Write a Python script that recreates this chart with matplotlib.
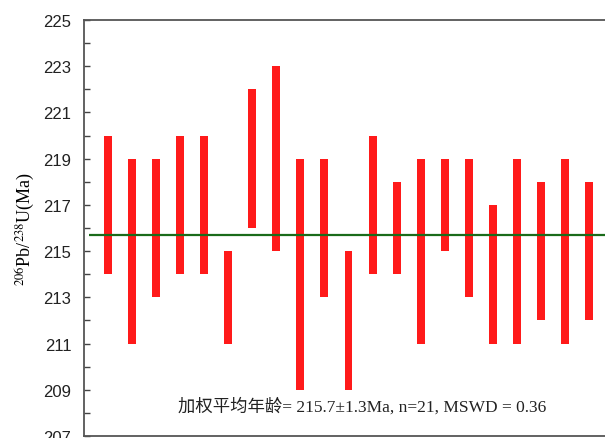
import numpy as np
import matplotlib
matplotlib.use("Agg")
import matplotlib.pyplot as plt
from matplotlib.ticker import MultipleLocator

# 206Pb/238U ages with error ranges (Ma), one bar per analysis
age_low = [214, 211, 213, 214, 214, 211, 216, 215, 209, 213, 209,
           214, 214, 211, 215, 213, 211, 211, 212, 211, 212]
age_high = [220, 219, 219, 220, 220, 215, 222, 223, 219, 219, 215,
            220, 218, 219, 219, 219, 217, 219, 218, 219, 218]
weighted_mean = 215.7
y_ticks = [207, 209, 211, 213, 215, 217, 219, 221, 223, 225]
note = "加权平均年龄= 215.7±1.3Ma, n=21, MSWD = 0.36"

plt.rcParams["mathtext.fontset"] = "stix"

fig = plt.figure(figsize=(6.05, 4.39), dpi=100)
ax = fig.add_axes([84 / 605, 2 / 439, 529 / 605, 416 / 439])

x = np.arange(1, len(age_low) + 1)
low = np.array(age_low)
high = np.array(age_high)
ax.bar(x, high - low, bottom=low, width=0.33, color="#ff1a1a", zorder=2)
ax.hlines(weighted_mean, 0.2, 22, color="#1a6b1a", linewidth=1.6, zorder=3)

ax.set_xlim(0, 22)
ax.set_ylim(207, 225)
ax.set_xticks([])
ax.set_yticks(y_ticks)
ax.yaxis.set_minor_locator(MultipleLocator(1))
ax.tick_params(axis="y", which="both", direction="in", length=4,
               width=1, color="#444444", pad=9)
for lbl in ax.get_yticklabels():
    lbl.set_fontfamily("Liberation Sans")
    lbl.set_fontsize(12)
    lbl.set_color("#222222")

for side in ["left", "top", "bottom"]:
    ax.spines[side].set_color("#555555")
    ax.spines[side].set_linewidth(1.3)
ax.spines["right"].set_visible(False)

ax.set_ylabel(r"$^{206}$Pb/$^{238}$U(Ma)", family="Liberation Serif",
              fontsize=13, labelpad=5)

ax.text(3.9, 208.3, note, family=["Liberation Serif", "Noto Sans CJK SC"],
        fontsize=12.5, color="#222222", va="center", ha="left")

fig.savefig("out.png", dpi=100)
